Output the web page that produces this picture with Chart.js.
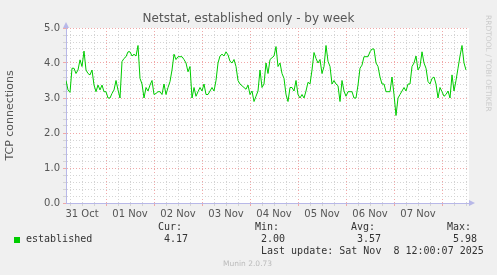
<!DOCTYPE html>
<html>
<head>
<meta charset="utf-8">
<script src="https://cdn.jsdelivr.net/npm/chart.js@4"></script>
<style>
  html, body { margin: 0; padding: 0; background: #f0f0f0; }
  #wrap { position: relative; width: 497px; height: 275px; overflow: hidden; background: #f0f0f0; }
  canvas { position: absolute; left: 0; top: 0; }
  .t { position: absolute; white-space: pre; line-height: 1; }
  .mono { font-family: "DejaVu Sans Mono", monospace; font-size: 10px; color: #333; }
</style>
</head>
<body>
<div id="wrap">
  <canvas id="c" width="497" height="275"></canvas>
  <div class="t" id="title" style="left:0;width:497px;text-align:center;top:12px;font-family:'DejaVu Sans';font-size:12px;color:#555;">Netstat, established only - by week</div>
  <div class="t" style="left:14px;top:237px;width:6px;height:6px;background:#00cc00;"></div>
  <div class="t mono" style="left:26px;top:234px;">established</div>
  <div class="t mono" style="left:158px;top:222px;">Cur:</div>
  <div class="t mono" style="left:164px;top:234px;">4.17</div>
  <div class="t mono" style="left:255px;top:222px;">Min:</div>
  <div class="t mono" style="left:261px;top:234px;">2.00</div>
  <div class="t mono" style="left:351px;top:222px;">Avg:</div>
  <div class="t mono" style="left:357px;top:234px;">3.57</div>
  <div class="t mono" style="left:447px;top:222px;">Max:</div>
  <div class="t mono" style="left:453px;top:234px;">5.98</div>
  <div class="t mono" style="left:261px;top:246px;">Last update: Sat Nov  8 12:00:07 2025</div>
  <div class="t" style="left:223px;top:260px;font-family:'DejaVu Sans';font-size:7.5px;color:#bbb;">Munin 2.0.73</div>
  <div class="t" style="left:483px;top:15px;font-family:'DejaVu Sans';font-size:7.5px;color:#ccc;transform-origin:0 0;transform:translate(9px,0) rotate(90deg);">RRDTOOL / TOBI OETIKER</div>
</div>
<script>
// ---- data (hourly samples, hours counted from 31 Oct 00:00) ----
const startHour = 4;
const dayLabels = ['31 Oct', '01 Nov', '02 Nov', '03 Nov', '04 Nov', '05 Nov', '06 Nov', '07 Nov'];
const yTickValues = [0, 0.2, 0.4, 0.6, 0.8, 1, 1.2, 1.4, 1.6, 1.8, 2, 2.2, 2.4, 2.6, 2.8, 3, 3.2, 3.4, 3.6, 3.8, 4, 4.2, 4.4, 4.6, 4.8, 5];
const connections = [
  3.5, 3.23, 3.16, 3.85, 3.85, 3.7, 3.8, 4.09, 3.9, 4.34,
  3.8, 3.7, 3.66, 3.8, 3.37, 3.18, 3.37, 3.23, 3.37, 3.18,
  3.18, 3.0, 3.0, 3.13, 3.23, 3.5, 3.23, 3.0, 4.04, 4.13,
  4.18, 4.32, 4.32, 4.2, 4.25, 4.2, 4.5, 3.56, 3.4, 3.0,
  3.3, 3.2, 3.37, 3.5, 3.1, 3.13, 3.18, 3.18, 3.1, 3.4,
  3.1, 3.3, 3.47, 3.8, 4.25, 4.1, 4.18, 4.18, 4.18, 4.1,
  4.0, 3.75, 3.9, 3.0, 3.3, 3.05, 3.18, 3.3, 3.2, 3.4,
  3.1, 3.1, 3.2, 3.3, 3.2, 3.5, 4.0, 4.2, 4.25, 4.2,
  4.32, 4.23, 4.05, 4.0, 4.1, 3.9, 3.5, 3.4, 3.35, 3.3,
  3.25, 3.37, 3.1, 3.2, 2.9, 3.05, 3.2, 3.8, 3.3, 3.4,
  4.0, 3.7, 4.1, 4.15, 4.2, 4.47, 3.9, 4.0, 3.7, 3.56,
  3.1, 2.9, 3.3, 3.3, 3.2, 3.5, 3.1, 3.0, 3.1, 3.0,
  3.2, 3.45, 3.4, 3.8, 4.3, 4.13, 4.0, 4.1, 3.7, 3.9,
  4.5, 4.05, 3.9, 3.4, 3.5, 3.4, 3.35, 2.9, 3.5, 3.2,
  3.05, 3.18, 3.18, 3.18, 3.0, 3.0, 3.37, 3.85, 3.94, 4.18,
  4.18, 4.18, 4.32, 4.4, 4.4, 4.0, 3.9, 3.6, 3.4, 3.4,
  3.18, 3.18, 3.18, 3.6, 3.1, 2.5, 3.0, 3.1, 3.2, 3.3,
  3.2, 3.4, 3.4, 3.9, 4.0, 4.2, 3.8, 3.9, 4.32, 4.0,
  3.85, 3.47, 3.4, 3.56, 3.6, 3.4, 3.0, 3.3, 3.18, 3.05,
  3.1, 3.2, 3.0, 3.66, 3.2, 3.5, 3.85, 4.2, 4.5, 4.0,
  3.8
];

const points = connections.map((v, i) => ({ x: startHour + i, y: v }));
const xTickValues = [];
for (let h = 6; h <= 204; h += 6) xTickValues.push(h);

const GRID_MINOR = '#d4d4d4';
const GRID_MAJOR = '#f0a8a8';
const AXIS = '#b8b8e8';
const isMajorY = v => Math.abs(v - Math.round(v)) < 1e-6;

const bgPlugin = {
  id: 'bg',
  beforeDraw(chart) {
    const { ctx, chartArea: a } = chart;
    ctx.save();
    ctx.fillStyle = '#f0f0f0';
    ctx.fillRect(0, 0, chart.width, chart.height);
    ctx.fillStyle = '#ffffff';
    ctx.fillRect(a.left, a.top, a.right - a.left, a.bottom - a.top);
    ctx.restore();
  },
  afterDraw(chart) {
    const { ctx, chartArea: a } = chart;
    ctx.save();
    ctx.fillStyle = AXIS;
    ctx.beginPath();
    ctx.moveTo(a.left - 3, a.top);
    ctx.lineTo(a.left + 3, a.top);
    ctx.lineTo(a.left, a.top - 6);
    ctx.closePath();
    ctx.fill();
    ctx.beginPath();
    ctx.moveTo(a.right, a.bottom - 3);
    ctx.lineTo(a.right, a.bottom + 3);
    ctx.lineTo(a.right + 6, a.bottom);
    ctx.closePath();
    ctx.fill();
    ctx.restore();
  }
};

new Chart(document.getElementById('c'), {
  type: 'line',
  data: {
    datasets: [{
      data: points,
      borderColor: '#00cc00',
      borderWidth: 1,
      pointRadius: 0,
      tension: 0,
      fill: false
    }]
  },
  options: {
    responsive: false,
    animation: false,
    devicePixelRatio: 1,
    layout: { padding: { top: 28, right: 28, left: 0, bottom: 0 } },
    plugins: { legend: { display: false }, title: { display: false }, tooltip: { enabled: false } },
    scales: {
      x: {
        type: 'linear',
        min: 4,
        max: 205.5,
        afterBuildTicks: s => { s.ticks = xTickValues.map(v => ({ value: v })); },
        afterFit: s => { s.height = 72; },
        ticks: {
          autoSkip: false,
          maxRotation: 0,
          padding: 2,
          color: '#555',
          font: { family: 'DejaVu Sans', size: 10 },
          callback: v => (v % 24 === 12 && v <= 180) ? dayLabels[(v - 12) / 24] : ''
        },
        grid: {
          color: c => (c.tick && c.tick.value % 24 === 0) ? GRID_MAJOR : GRID_MINOR,
          tickColor: c => (c.tick && c.tick.value % 24 === 0) ? GRID_MAJOR : GRID_MINOR,
          tickLength: 3,
          lineWidth: 1
        },
        border: { color: AXIS, width: 1, dash: [1, 2] }
      },
      y: {
        min: 0,
        max: 5,
        afterBuildTicks: s => { s.ticks = yTickValues.map(v => ({ value: v })); },
        afterFit: s => { s.width = 66; },
        ticks: {
          autoSkip: false,
          padding: 3,
          color: '#555',
          font: { family: 'DejaVu Sans', size: 10 },
          callback: v => isMajorY(v) ? v.toFixed(1) : ''
        },
        grid: {
          color: c => (c.tick && isMajorY(c.tick.value) && c.tick.value > 0) ? GRID_MAJOR : GRID_MINOR,
          tickColor: c => (c.tick && isMajorY(c.tick.value)) ? GRID_MAJOR : GRID_MINOR,
          tickLength: 3,
          lineWidth: 1
        },
        border: { color: AXIS, width: 1, dash: [1, 2] },
        title: {
          display: true,
          text: 'TCP connections',
          color: '#555',
          font: { family: 'DejaVu Sans', size: 11 },
          padding: { top: 4, bottom: 0 }
        }
      }
    }
  },
  plugins: [bgPlugin]
});
</script>
</body>
</html>
